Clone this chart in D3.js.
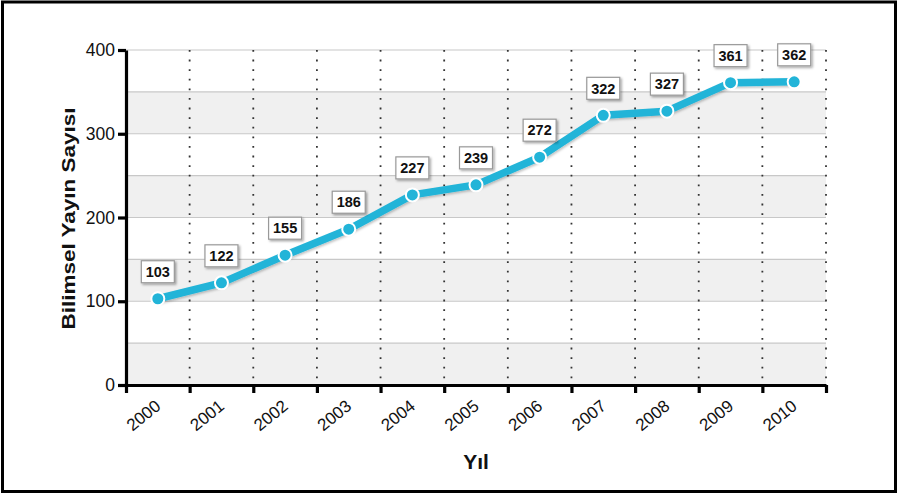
<!DOCTYPE html>
<html>
<head>
<meta charset="utf-8">
<script src="https://cdn.jsdelivr.net/npm/d3@7"></script>
<style>
  html, body { margin: 0; padding: 0; background: #fff; }
  svg { display: block; font-family: "Liberation Sans", Arial, sans-serif; }
</style>
</head>
<body>
<svg id="chart" width="897" height="493"></svg>
<script>
const years = ["2000","2001","2002","2003","2004","2005","2006","2007","2008","2009","2010"];
const values = [103, 122, 155, 186, 227, 239, 272, 322, 327, 361, 362];
const yTicks = [0, 100, 200, 300, 400];
const bandEdges = [0, 50, 100, 150, 200, 250, 300, 350, 400];
const xTitle = "Yıl";
const yTitle = "Bilimsel Yayın Sayısı";

(function () {
const svg = d3.select("#chart");
const W = 897, H = 493;
const pLeft = 126, pRight = 826, pTop = 50, pBottom = 385;

// outer frame
svg.append("rect").attr("x", 2.5).attr("y", 2).attr("width", W - 4).attr("height", H - 3.5)
  .attr("fill", "#fff").attr("stroke", "#000").attr("stroke-width", 3);

const x = d3.scaleBand().domain(years).range([pLeft, pRight]).padding(0);
const y = d3.scaleLinear().domain([0, 400]).range([pBottom, pTop]);

const defs = svg.append("defs");
const f = defs.append("filter").attr("id", "shadow").attr("x", "-20%").attr("y", "-20%").attr("width", "150%").attr("height", "160%");
f.append("feDropShadow").attr("dx", 1.5).attr("dy", 1.5).attr("stdDeviation", 1.2).attr("flood-color", "#000").attr("flood-opacity", 0.35);
const f2 = defs.append("filter").attr("id", "lshadow").attr("x", "-10%").attr("y", "-10%").attr("width", "120%").attr("height", "130%");
f2.append("feDropShadow").attr("dx", 1).attr("dy", 1.5).attr("stdDeviation", 1).attr("flood-color", "#000").attr("flood-opacity", 0.25);

// alternating bands
const bands = d3.pairs(bandEdges);
svg.append("g").selectAll("rect").data(bands).join("rect")
  .attr("x", pLeft).attr("width", pRight - pLeft)
  .attr("y", d => y(d[1])).attr("height", d => y(d[0]) - y(d[1]))
  .attr("fill", (d, i) => i % 2 === 0 ? "#f0f0f0" : "#ffffff");

// horizontal grid lines
svg.append("g").selectAll("line").data(bandEdges.slice(1)).join("line")
  .attr("x1", pLeft).attr("x2", pRight)
  .attr("y1", d => y(d)).attr("y2", d => y(d))
  .attr("stroke", "#c8c8c8").attr("stroke-width", 1.2);

// vertical dotted grid lines at band boundaries
const edgesX = years.slice(1).map(d => x(d)).concat([pRight]);
svg.append("g").selectAll("line").data(edgesX).join("line")
  .attr("x1", d => d).attr("x2", d => d)
  .attr("y1", pTop).attr("y2", pBottom)
  .attr("stroke", "#333").attr("stroke-width", 1.8)
  .attr("stroke-dasharray", "1.8,7.8");

// Y axis
const yAxis = svg.append("g").attr("transform", `translate(${pLeft},0)`)
  .call(d3.axisLeft(y).tickValues(yTicks).tickSize(8).tickPadding(3).tickSizeOuter(0));
yAxis.select(".domain").attr("stroke", "#000").attr("stroke-width", 3.2);
yAxis.selectAll(".tick line").attr("stroke", "#000").attr("stroke-width", 3.2);
yAxis.selectAll(".tick text").attr("font-size", 17.5).attr("fill", "#111")
  .attr("font-family", "'Liberation Sans', Arial, sans-serif");

// X axis line with ticks at band boundaries
const xEdgeScale = d3.scaleLinear().domain([0, years.length]).range([pLeft, pRight]);
const xAxis = svg.append("g").attr("transform", `translate(0,${pBottom})`)
  .call(d3.axisBottom(xEdgeScale).tickValues(d3.range(years.length + 1))
    .tickSize(8).tickSizeOuter(0).tickFormat(""));
xAxis.select(".domain").attr("stroke", "#000").attr("stroke-width", 3.2);
xAxis.selectAll(".tick line").attr("stroke", "#000").attr("stroke-width", 3.2);

// X labels (rotated) at band centres
const xLab = svg.append("g").attr("transform", `translate(0,${pBottom})`)
  .call(d3.axisBottom(x).tickSize(0).tickPadding(0));
xLab.select(".domain").remove();
xLab.selectAll(".tick text")
  .attr("font-size", 17).attr("fill", "#111")
  .attr("font-family", "'Liberation Sans', Arial, sans-serif")
  .attr("text-anchor", "end")
  .attr("dy", 0).attr("y", 0)
  .attr("transform", "translate(4,23) rotate(-39)");

// line
const line = d3.line().x((d, i) => x(years[i]) + x.bandwidth() / 2).y(d => y(d));
svg.append("path").datum(values).attr("d", line)
  .attr("fill", "none").attr("stroke", "#22b4d8").attr("stroke-width", 7.5)
  .attr("stroke-linejoin", "round").attr("stroke-linecap", "round")
  .attr("filter", "url(#lshadow)");

// points
svg.append("g").selectAll("circle").data(values).join("circle")
  .attr("cx", (d, i) => x(years[i]) + x.bandwidth() / 2)
  .attr("cy", d => y(d)).attr("r", 6.5)
  .attr("fill", "#22b4d8").attr("stroke", "#fff").attr("stroke-width", 2);

// value labels
const lbl = svg.append("g").selectAll("g").data(values).join("g")
  .attr("transform", (d, i) => `translate(${x(years[i]) + x.bandwidth() / 2},${y(d) - 27})`);
lbl.append("rect").attr("x", -16.5).attr("y", -11).attr("width", 33).attr("height", 22)
  .attr("fill", "#fff").attr("stroke", "#999").attr("stroke-width", 1.2)
  .attr("filter", "url(#shadow)");
lbl.append("text").text(d => d).attr("text-anchor", "middle").attr("dy", "0.36em")
  .attr("font-size", 14.5).attr("font-weight", "bold").attr("fill", "#111");

// titles
svg.append("text").text(xTitle).attr("x", (pLeft + pRight) / 2).attr("y", 469)
  .attr("text-anchor", "middle").attr("font-size", 21).attr("font-weight", "bold").attr("fill", "#111");
svg.append("text").text(yTitle)
  .attr("transform", `translate(75,${(pTop + pBottom) / 2 + 1}) rotate(-90)`)
  .attr("text-anchor", "middle").attr("font-size", 18).attr("font-weight", "bold").attr("fill", "#111")
  .attr("textLength", 222).attr("lengthAdjust", "spacingAndGlyphs");
})();
</script>
</body>
</html>
